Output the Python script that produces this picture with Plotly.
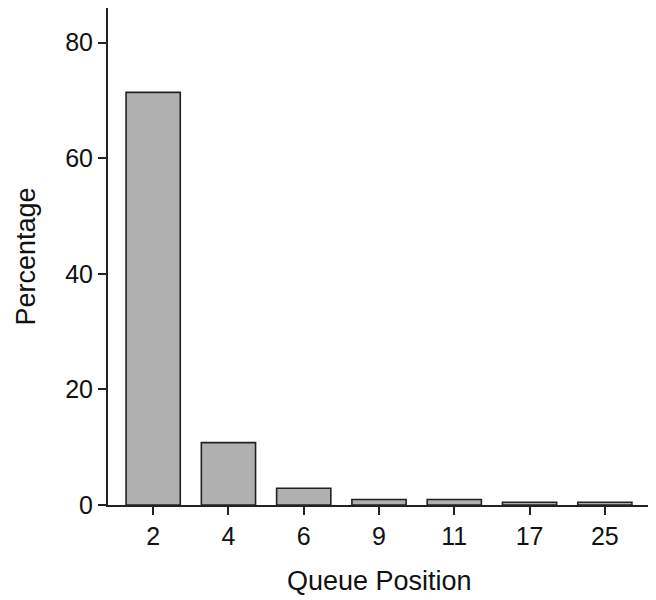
import plotly.graph_objects as go

categories = ["2", "4", "6", "9", "11", "17", "25"]
percentages = [71.4, 10.8, 2.9, 0.95, 0.95, 0.47, 0.47]

fig = go.Figure()
fig.add_trace(go.Bar(
    x=categories, y=percentages,
    width=0.72,
    marker=dict(color="#b0b0b0", line=dict(color="#222222", width=1.6)),
))

font = "Liberation Sans, Arial, sans-serif"
fig.update_layout(
    width=648, height=592,
    margin=dict(l=100, r=6, t=0, b=95, autoexpand=False),
    plot_bgcolor="white", paper_bgcolor="white",
    showlegend=False,
    font=dict(family=font, size=25, color="#111111"),
    xaxis=dict(
        type="category", range=[-0.6, 6.6],
        showline=True, linecolor="#222222", linewidth=2,
        ticks="outside", ticklen=8, tickwidth=2, tickcolor="#222222",
        showgrid=False, zeroline=False, automargin=False,
        tickfont=dict(size=25),
    ),
    yaxis=dict(
        range=[0, 86], tickvals=[0, 20, 40, 60, 80],
        showline=True, linecolor="#222222", linewidth=2,
        ticks="outside", ticklen=8, tickwidth=2, tickcolor="#222222",
        showgrid=False, zeroline=False, automargin=False,
        tickfont=dict(size=25),
    ),
    annotations=[
        dict(text="Queue Position", xref="paper", yref="paper",
             x=0.5, y=-0.1529, xanchor="center", yanchor="middle",
             showarrow=False, font=dict(size=27)),
        dict(text="Percentage", xref="paper", yref="paper",
             x=-0.1513, y=0.5, xanchor="center", yanchor="middle",
             textangle=-90, showarrow=False, font=dict(size=27)),
    ],
)

fig.write_html("out.html")
